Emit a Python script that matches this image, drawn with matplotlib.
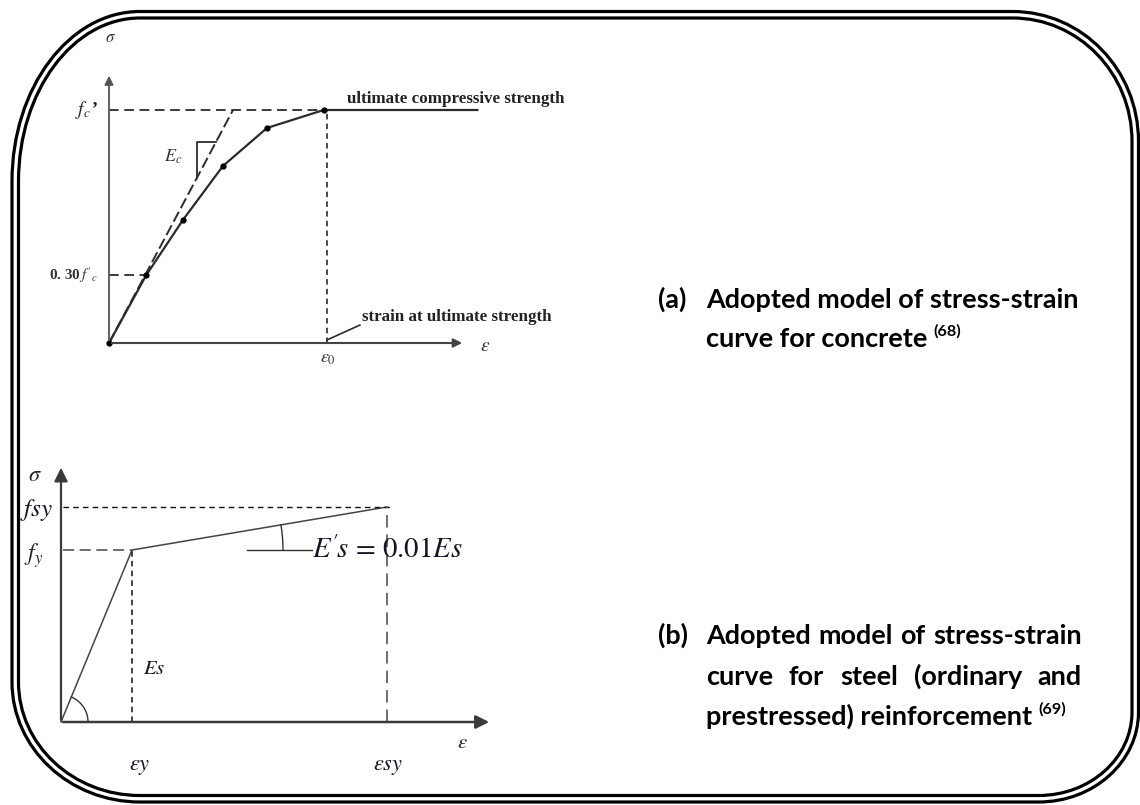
import numpy as np
import matplotlib
matplotlib.use("Agg")
import matplotlib.pyplot as plt
from matplotlib.path import Path
from matplotlib.patches import PathPatch

plt.rcParams['mathtext.fontset'] = 'stix'
plt.rcParams['lines.scale_dashes'] = False

# ---------------- data ----------------
# (a) concrete model (normalised: strain / eps0, stress / fc')
conc_strain = [0.0, 0.17, 0.339, 0.523, 0.725, 0.985]
conc_stress = [0.0, 0.29, 0.528, 0.760, 0.923, 1.0]
conc_plateau_end = 1.69
conc_eps0 = 1.0
conc_fc = 1.0
conc_030 = 0.29
tangent_strain = [0.0, 0.569]
tangent_stress = [0.0, 1.0]
slope_tri_x = [0.404, 0.404, 0.491]
slope_tri_y = [0.710, 0.863, 0.863]
conc_labels = ["ultimate compressive strength", "strain at ultimate strength"]

# (b) steel model (normalised: strain / eps_y, stress / f_y)
steel_strain = [0.0, 1.0, 4.59]
steel_stress = [0.0, 1.0, 1.25]
steel_eps_y = 1.0
steel_eps_sy = 4.59
steel_fy = 1.0
steel_fsy = 1.25

caption_a = [["(a)", "Adopted model of stress-strain"], ["curve for concrete", "(68)"]]
caption_b = [["(b)", "Adopted model of stress-strain"],
             ["curve for steel (ordinary and"],
             ["prestressed) reinforcement", "(69)"]]

W, H = 1140, 805
fig = plt.figure(figsize=(W / 100, H / 100), dpi=100)
fig.patch.set_facecolor("white")

bg = fig.add_axes([0, 0, 1, 1])
bg.set_xlim(0, W)
bg.set_ylim(H, 0)
bg.axis("off")


def rrect_path(L, T, R, B, tl, tr, br, bl):
    k = 0.5523
    v, c = [], []
    v.append((L + tl[0], T)); c.append(Path.MOVETO)
    v.append((R - tr[0], T)); c.append(Path.LINETO)
    rx, ry = tr
    v += [(R - rx + k * rx, T), (R, T + ry - k * ry), (R, T + ry)]; c += [Path.CURVE4] * 3
    v.append((R, B - br[1])); c.append(Path.LINETO)
    rx, ry = br
    v += [(R, B - ry + k * ry), (R - rx + k * rx, B), (R - rx, B)]; c += [Path.CURVE4] * 3
    v.append((L + bl[0], B)); c.append(Path.LINETO)
    rx, ry = bl
    v += [(L + rx - k * rx, B), (L, B - ry + k * ry), (L, B - ry)]; c += [Path.CURVE4] * 3
    v.append((L, T + tl[1])); c.append(Path.LINETO)
    rx, ry = tl
    v += [(L, T + ry - k * ry), (L + rx - k * rx, T), (L + rx, T)]; c += [Path.CURVE4] * 3
    return Path(v, c)


radii = [(128, 170), (126, 130), (100, 90), (128, 120)]
for d in (0.0, 6.5):
    rr = [(a - d, b - d) for a, b in radii]
    p = rrect_path(12 + d, 11.5 + d, 1138.5 - d, 802 - d, *rr)
    bg.add_patch(PathPatch(p, facecolor="none", edgecolor="black", lw=2.3))


def diagram_axes(box, origin, unit):
    x0p, y0p, x1p, y1p = box
    ax = fig.add_axes([x0p / W, 1 - y1p / H, (x1p - x0p) / W, (y1p - y0p) / H])
    ox, oy = origin
    ux, uy = unit
    ax.set_xlim((x0p - ox) / ux, (x1p - ox) / ux)
    ax.set_ylim((oy - y1p) / uy, (oy - y0p) / uy)
    ax.axis("off")
    ax.patch.set_alpha(0)
    return ax


renderer = fig.canvas.get_renderer()

# ---------------- (a) concrete diagram ----------------
axa = diagram_axes((25, 20, 600, 385), (109, 343), (218, 233))
lc = "#2b2b2b"
axa.annotate("", xy=(0, 1.159), xytext=(0, 0),
             arrowprops=dict(arrowstyle="-|>", color="#555555", lw=1.3, mutation_scale=13))
axa.annotate("", xy=(1.633, 0), xytext=(0, 0),
             arrowprops=dict(arrowstyle="-|>", color="#444444", lw=1.5, mutation_scale=13))
axa.plot([0, conc_eps0], [conc_fc, conc_fc], color=lc, lw=1.3, ls=(0, (7, 4)))
axa.plot([conc_eps0, conc_eps0], [0, conc_fc], color=lc, lw=1.2, ls=(0, (4, 3)))
axa.plot([0, conc_strain[1]], [conc_030, conc_030], color=lc, lw=1.3, ls=(0, (7, 4)))
axa.plot(tangent_strain, tangent_stress, color=lc, lw=1.4, ls=(0, (8, 3)))
axa.plot(conc_strain + [conc_plateau_end], conc_stress + [conc_fc], color=lc, lw=1.6)
axa.plot(conc_strain, conc_stress, ls="none", marker="o", ms=3.5, color="black")
axa.plot(slope_tri_x, slope_tri_y, color=lc, lw=1.3)
axa.plot([conc_eps0, 1.151], [0.013, 0.077], color=lc, lw=1.2)

serif = "Liberation Serif"
ta = axa.text(1.09, conc_fc + 0.047, conc_labels[0], family=serif, weight="bold",
              fontsize=10, va="center", ha="left", color="#222222")
fs_lab = 10 * 218 / ta.get_window_extent(renderer).width
ta.set_fontsize(fs_lab)
axa.text(1.16, 0.112, conc_labels[1], family=serif, weight="bold", fontsize=fs_lab,
         va="center", ha="left", color="#222222")
axa.text(0.005, 1.313, r"$\sigma$", fontsize=12, ha="center", va="center", color="#333333")
axa.text(-0.05, conc_fc, r"$f_c$’", fontsize=14, ha="right", va="center", color="#222222",
         family=serif, style="italic", weight="bold")
axa.text(-0.05, conc_030, r"0. 30$\,f'_c$", fontsize=11, ha="right", va="center",
         color="#333333", family=serif, weight="bold")
axa.text(0.294, 0.798, r"$E_c$", fontsize=13, ha="center", va="center", color="#333333")
axa.text(1.005, -0.065, r"$\varepsilon_0$", fontsize=13, ha="center", va="center", color="#333333")
axa.text(1.725, -0.01, r"$\varepsilon$", fontsize=14, ha="center", va="center", color="#333333")

# ---------------- (b) steel diagram ----------------
axb = diagram_axes((20, 440, 560, 795), (61, 722), (71, 172))
axb.annotate("", xy=(0, 1.494), xytext=(0, -0.005),
             arrowprops=dict(arrowstyle="-|>", color="#3a3a3a", lw=1.6, mutation_scale=20))
axb.annotate("", xy=(6.07, 0), xytext=(-0.01, 0),
             arrowprops=dict(arrowstyle="-|>", color="#3a3a3a", lw=1.8, mutation_scale=20))
axb.plot(steel_strain, steel_stress, color="#444444", lw=1.1)
axb.plot([0.03, steel_strain[1]], [steel_fy, steel_fy], color="#555555", lw=1.2, ls=(0, (8, 4)))
axb.plot([0.03, 4.63], [steel_fsy, steel_fsy], color="#111111", lw=1.0, ls=(0, (4, 3)))
axb.plot([steel_eps_y, steel_eps_y], [0, steel_fy], color="#111111", lw=1.1, ls=(0, (4, 3)))
axb.plot([steel_eps_sy, steel_eps_sy], [0, steel_fsy], color="#555555", lw=1.2, ls=(0, (9, 5)))
# angle arcs
phi0 = np.arctan2(172 * steel_stress[1], 71 * steel_strain[1])
t = np.linspace(0, phi0, 40)
axb.plot(27 * np.cos(t) / 71, 27 * np.sin(t) / 172, color="#333333", lw=1.0)
phi1 = np.arctan2(172 * (steel_stress[2] - steel_stress[1]), 71 * (steel_strain[2] - steel_strain[1]))
t = np.linspace(0, phi1, 20)
axb.plot(steel_strain[1] + 151 * np.cos(t) / 71, steel_stress[1] + 151 * np.sin(t) / 172,
         color="#333333", lw=1.0)
axb.plot([2.62, 3.535], [steel_fy, steel_fy], color="#333333", lw=1.0)

mc = "#141428"
axb.text(-0.366, 1.436, r"$\sigma$", fontsize=16, ha="center", va="center", color="#222222")
axb.text(-0.11, steel_fsy - 0.015, r"$fsy$", fontsize=18, ha="right", va="center", color=mc)
axb.text(-0.25, steel_fy - 0.03, r"$f_y$", fontsize=17, ha="right", va="center", color="#222222")
axb.text(1.155, 0.314, r"$Es$", fontsize=15, ha="left", va="center", color=mc)
axb.text(1.11, -0.262, r"$\varepsilon y$", fontsize=16, ha="center", va="center", color=mc)
axb.text(4.6, -0.262, r"$\varepsilon sy$", fontsize=16, ha="center", va="center", color=mc)
axb.text(5.65, -0.116, r"$\varepsilon$", fontsize=15, ha="center", va="center", color="#222222")
te = axb.text(3.535, steel_fy, r"$E'\!s\,=\,0.01Es$", fontsize=18, ha="left", va="center", color=mc)
te.set_fontsize(18 * 151 / te.get_window_extent(renderer).width)

# ---------------- captions ----------------
cf = "Lato"
tt = bg.text(706, 300, caption_a[0][1], family=cf, weight="bold", fontsize=18, va="baseline")
fs = 18 * 372 / tt.get_window_extent(renderer).width
tt.remove()


def wwidth(s, size):
    t_ = bg.text(0, 0, s, family=cf, weight="bold", fontsize=size)
    w = t_.get_window_extent(renderer).width
    t_.remove()
    return w


def put(x, y, s, size=None, ha="left"):
    return bg.text(x, y, s, family=cf, weight="bold", fontsize=size or fs, va="baseline",
                   ha=ha, color="black")


def justify(x0, x1, y, line):
    words = line.split()
    ws = [wwidth(w, fs) for w in words]
    gap = (x1 - x0 - sum(ws)) / (len(words) - 1)
    x = x0
    for w, wd in zip(words, ws):
        put(x, y, w)
        x += wd + gap


def with_sup(x, y, s, sup):
    put(x, y, s)
    w = wwidth(s + " ", fs)
    put(x + w, y - 0.42 * fs * 1.389, sup, size=fs * 0.6)


# (a)
put(658, 308, caption_a[0][0])
put(706, 308, caption_a[0][1])
with_sup(706, 347, caption_a[1][0], caption_a[1][1])
# (b)
put(658, 644, caption_b[0][0])
justify(706, 1082, 644, caption_b[0][1])
justify(706, 1082, 685, caption_b[1][0])
with_sup(706, 725, caption_b[2][0], caption_b[2][1])

fig.savefig("out.png", dpi=100, facecolor="white")
